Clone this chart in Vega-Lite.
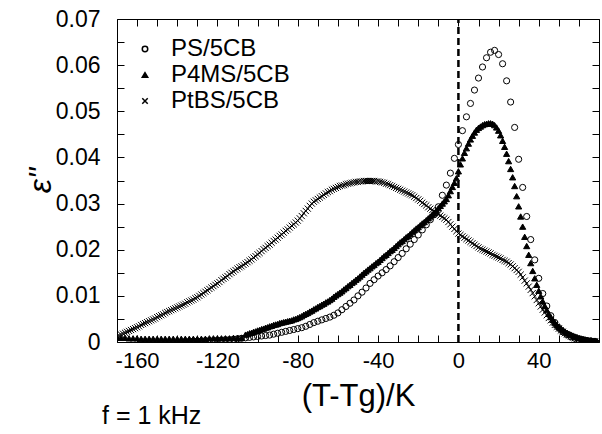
{
  "$schema": "https://vega.github.io/schema/vega-lite/v6.json",
  "autosize": "none",
  "width": 482,
  "height": 323,
  "padding": {"left": 117, "top": 19, "right": 3, "bottom": 92},
  "background": "white",
  "config": {
    "font": "Liberation Sans",
    "view": {"stroke": "black", "strokeWidth": 1},
    "axis": {"grid": false, "domain": false, "labelColor": "black", "titleColor": "black"}
  },
  "title": {"text": "f = 1 kHz", "orient": "bottom", "anchor": "start", "frame": "group", "fontSize": 25, "fontWeight": "normal", "font": "Liberation Sans", "color": "black", "dx": -15, "dy": -7, "offset": 0},
  "resolve": {"axis": {"x": "independent", "y": "independent"}},
  "layer": [
    {
      "data": {"values": [
{"s":"PS/5CB","x":-136,"y":0.0001},{"s":"PS/5CB","x":-134,"y":0.0001},{"s":"PS/5CB","x":-132,"y":0.0002},{"s":"PS/5CB","x":-130,"y":0.0002},{"s":"PS/5CB","x":-128,"y":0.0002},{"s":"PS/5CB","x":-126,"y":0.0003},{"s":"PS/5CB","x":-124,"y":0.0003},{"s":"PS/5CB","x":-122,"y":0.0003},{"s":"PS/5CB","x":-120,"y":0.0004},{"s":"PS/5CB","x":-118,"y":0.0004},{"s":"PS/5CB","x":-116,"y":0.0005},{"s":"PS/5CB","x":-114,"y":0.0005},{"s":"PS/5CB","x":-112,"y":0.0006},{"s":"PS/5CB","x":-110,"y":0.0007},{"s":"PS/5CB","x":-108,"y":0.0008},{"s":"PS/5CB","x":-106,"y":0.0009},{"s":"PS/5CB","x":-104,"y":0.0010},{"s":"PS/5CB","x":-102,"y":0.0011},{"s":"PS/5CB","x":-100,"y":0.0012},{"s":"PS/5CB","x":-98,"y":0.0013},{"s":"PS/5CB","x":-96,"y":0.0014},{"s":"PS/5CB","x":-94,"y":0.0015},{"s":"PS/5CB","x":-92,"y":0.0017},{"s":"PS/5CB","x":-90,"y":0.0019},{"s":"PS/5CB","x":-88,"y":0.0021},{"s":"PS/5CB","x":-86,"y":0.0023},{"s":"PS/5CB","x":-84,"y":0.0025},{"s":"PS/5CB","x":-82,"y":0.0027},{"s":"PS/5CB","x":-80,"y":0.0029},{"s":"PS/5CB","x":-78,"y":0.0031},{"s":"PS/5CB","x":-76,"y":0.0034},{"s":"PS/5CB","x":-74,"y":0.0038},{"s":"PS/5CB","x":-72,"y":0.0042},{"s":"PS/5CB","x":-70,"y":0.0045},{"s":"PS/5CB","x":-68,"y":0.0048},{"s":"PS/5CB","x":-66,"y":0.0051},{"s":"PS/5CB","x":-64,"y":0.0054},{"s":"PS/5CB","x":-62,"y":0.0058},{"s":"PS/5CB","x":-60,"y":0.0063},{"s":"PS/5CB","x":-58,"y":0.0070},{"s":"PS/5CB","x":-56,"y":0.0077},{"s":"PS/5CB","x":-54,"y":0.0084},{"s":"PS/5CB","x":-52,"y":0.0091},{"s":"PS/5CB","x":-50,"y":0.0100},{"s":"PS/5CB","x":-48,"y":0.0108},{"s":"PS/5CB","x":-46,"y":0.0117},{"s":"PS/5CB","x":-44,"y":0.0127},{"s":"PS/5CB","x":-42,"y":0.0135},{"s":"PS/5CB","x":-40,"y":0.0143},{"s":"PS/5CB","x":-38,"y":0.0150},{"s":"PS/5CB","x":-36,"y":0.0157},{"s":"PS/5CB","x":-34,"y":0.0165},{"s":"PS/5CB","x":-32,"y":0.0174},{"s":"PS/5CB","x":-30,"y":0.0183},{"s":"PS/5CB","x":-28,"y":0.0192},{"s":"PS/5CB","x":-26,"y":0.0202},{"s":"PS/5CB","x":-24,"y":0.0212},{"s":"PS/5CB","x":-22,"y":0.0222},{"s":"PS/5CB","x":-20,"y":0.0232},{"s":"PS/5CB","x":-18,"y":0.0243},{"s":"PS/5CB","x":-16,"y":0.0254},{"s":"PS/5CB","x":-14,"y":0.0265},{"s":"PS/5CB","x":-12,"y":0.0276},{"s":"PS/5CB","x":-10,"y":0.0293},{"s":"PS/5CB","x":-8,"y":0.0318},{"s":"PS/5CB","x":-6,"y":0.0340},{"s":"PS/5CB","x":-4,"y":0.0366},{"s":"PS/5CB","x":-2,"y":0.0398},{"s":"PS/5CB","x":0,"y":0.0428},{"s":"PS/5CB","x":2,"y":0.0458},{"s":"PS/5CB","x":4,"y":0.0488},{"s":"PS/5CB","x":6,"y":0.0517},{"s":"PS/5CB","x":8,"y":0.0546},{"s":"PS/5CB","x":10,"y":0.0572},{"s":"PS/5CB","x":12,"y":0.0596},{"s":"PS/5CB","x":14,"y":0.0616},{"s":"PS/5CB","x":16,"y":0.0628},{"s":"PS/5CB","x":18,"y":0.0632},{"s":"PS/5CB","x":20,"y":0.0623},{"s":"PS/5CB","x":22,"y":0.0603},{"s":"PS/5CB","x":24,"y":0.0566},{"s":"PS/5CB","x":26,"y":0.0520},{"s":"PS/5CB","x":28,"y":0.0465},{"s":"PS/5CB","x":30,"y":0.0396},{"s":"PS/5CB","x":32,"y":0.0335},{"s":"PS/5CB","x":34,"y":0.0272},{"s":"PS/5CB","x":36,"y":0.0222},{"s":"PS/5CB","x":38,"y":0.0178},{"s":"PS/5CB","x":40,"y":0.0138},{"s":"PS/5CB","x":42,"y":0.0105},{"s":"PS/5CB","x":44,"y":0.0078},{"s":"PS/5CB","x":46,"y":0.0057},{"s":"PS/5CB","x":48,"y":0.0042},{"s":"PS/5CB","x":50,"y":0.0031},{"s":"PS/5CB","x":52,"y":0.0022},{"s":"PS/5CB","x":54,"y":0.0016},{"s":"PS/5CB","x":56,"y":0.0011},{"s":"PS/5CB","x":58,"y":0.0008},{"s":"PS/5CB","x":60,"y":0.0005},{"s":"PS/5CB","x":62,"y":0.0004},{"s":"PS/5CB","x":64,"y":0.0003},{"s":"PS/5CB","x":66,"y":0.0002},{"s":"PS/5CB","x":68,"y":0.0001},
{"s":"P4MS/5CB","x":-170,"y":0.0010},{"s":"P4MS/5CB","x":-168,"y":0.0009},{"s":"P4MS/5CB","x":-166,"y":0.0009},{"s":"P4MS/5CB","x":-164,"y":0.0008},{"s":"P4MS/5CB","x":-162,"y":0.0008},{"s":"P4MS/5CB","x":-160,"y":0.0008},{"s":"P4MS/5CB","x":-158,"y":0.0007},{"s":"P4MS/5CB","x":-156,"y":0.0007},{"s":"P4MS/5CB","x":-154,"y":0.0007},{"s":"P4MS/5CB","x":-152,"y":0.0007},{"s":"P4MS/5CB","x":-150,"y":0.0007},{"s":"P4MS/5CB","x":-148,"y":0.0007},{"s":"P4MS/5CB","x":-146,"y":0.0007},{"s":"P4MS/5CB","x":-144,"y":0.0007},{"s":"P4MS/5CB","x":-142,"y":0.0007},{"s":"P4MS/5CB","x":-140,"y":0.0007},{"s":"P4MS/5CB","x":-138,"y":0.0007},{"s":"P4MS/5CB","x":-136,"y":0.0007},{"s":"P4MS/5CB","x":-134,"y":0.0007},{"s":"P4MS/5CB","x":-132,"y":0.0007},{"s":"P4MS/5CB","x":-130,"y":0.0007},{"s":"P4MS/5CB","x":-128,"y":0.0007},{"s":"P4MS/5CB","x":-126,"y":0.0007},{"s":"P4MS/5CB","x":-124,"y":0.0008},{"s":"P4MS/5CB","x":-122,"y":0.0008},{"s":"P4MS/5CB","x":-120,"y":0.0008},{"s":"P4MS/5CB","x":-118,"y":0.0008},{"s":"P4MS/5CB","x":-116,"y":0.0008},{"s":"P4MS/5CB","x":-114,"y":0.0008},{"s":"P4MS/5CB","x":-112,"y":0.0009},{"s":"P4MS/5CB","x":-110,"y":0.0009},{"s":"P4MS/5CB","x":-108,"y":0.0009},
{"s":"P4MS/5CB","x":-106,"y":0.0016},{"s":"P4MS/5CB","x":-105,"y":0.0017},{"s":"P4MS/5CB","x":-104,"y":0.0019},{"s":"P4MS/5CB","x":-103,"y":0.0020},{"s":"P4MS/5CB","x":-102,"y":0.0022},{"s":"P4MS/5CB","x":-101,"y":0.0023},{"s":"P4MS/5CB","x":-100,"y":0.0025},{"s":"P4MS/5CB","x":-99,"y":0.0026},{"s":"P4MS/5CB","x":-98,"y":0.0028},{"s":"P4MS/5CB","x":-97,"y":0.0029},{"s":"P4MS/5CB","x":-96,"y":0.0031},{"s":"P4MS/5CB","x":-95,"y":0.0032},{"s":"P4MS/5CB","x":-94,"y":0.0034},{"s":"P4MS/5CB","x":-93,"y":0.0035},{"s":"P4MS/5CB","x":-92,"y":0.0037},{"s":"P4MS/5CB","x":-91,"y":0.0038},{"s":"P4MS/5CB","x":-90,"y":0.0039},{"s":"P4MS/5CB","x":-89,"y":0.0041},{"s":"P4MS/5CB","x":-88,"y":0.0042},{"s":"P4MS/5CB","x":-87,"y":0.0043},{"s":"P4MS/5CB","x":-86,"y":0.0044},{"s":"P4MS/5CB","x":-85,"y":0.0045},{"s":"P4MS/5CB","x":-84,"y":0.0046},{"s":"P4MS/5CB","x":-83,"y":0.0047},{"s":"P4MS/5CB","x":-82,"y":0.0049},{"s":"P4MS/5CB","x":-81,"y":0.0050},{"s":"P4MS/5CB","x":-80,"y":0.0052},{"s":"P4MS/5CB","x":-79,"y":0.0054},{"s":"P4MS/5CB","x":-78,"y":0.0056},{"s":"P4MS/5CB","x":-77,"y":0.0059},{"s":"P4MS/5CB","x":-76,"y":0.0061},{"s":"P4MS/5CB","x":-75,"y":0.0063},{"s":"P4MS/5CB","x":-74,"y":0.0066},{"s":"P4MS/5CB","x":-73,"y":0.0068},{"s":"P4MS/5CB","x":-72,"y":0.0071},{"s":"P4MS/5CB","x":-71,"y":0.0073},{"s":"P4MS/5CB","x":-70,"y":0.0076},{"s":"P4MS/5CB","x":-69,"y":0.0078},{"s":"P4MS/5CB","x":-68,"y":0.0081},{"s":"P4MS/5CB","x":-67,"y":0.0083},{"s":"P4MS/5CB","x":-66,"y":0.0086},{"s":"P4MS/5CB","x":-65,"y":0.0088},{"s":"P4MS/5CB","x":-64,"y":0.0091},{"s":"P4MS/5CB","x":-63,"y":0.0094},{"s":"P4MS/5CB","x":-62,"y":0.0098},{"s":"P4MS/5CB","x":-61,"y":0.0101},{"s":"P4MS/5CB","x":-60,"y":0.0104},{"s":"P4MS/5CB","x":-59,"y":0.0107},{"s":"P4MS/5CB","x":-58,"y":0.0110},{"s":"P4MS/5CB","x":-57,"y":0.0114},{"s":"P4MS/5CB","x":-56,"y":0.0117},{"s":"P4MS/5CB","x":-55,"y":0.0121},{"s":"P4MS/5CB","x":-54,"y":0.0124},{"s":"P4MS/5CB","x":-53,"y":0.0128},{"s":"P4MS/5CB","x":-52,"y":0.0131},{"s":"P4MS/5CB","x":-51,"y":0.0135},{"s":"P4MS/5CB","x":-50,"y":0.0138},{"s":"P4MS/5CB","x":-49,"y":0.0142},{"s":"P4MS/5CB","x":-48,"y":0.0146},{"s":"P4MS/5CB","x":-47,"y":0.0150},{"s":"P4MS/5CB","x":-46,"y":0.0153},{"s":"P4MS/5CB","x":-45,"y":0.0157},{"s":"P4MS/5CB","x":-44,"y":0.0160},{"s":"P4MS/5CB","x":-43,"y":0.0164},{"s":"P4MS/5CB","x":-42,"y":0.0167},{"s":"P4MS/5CB","x":-41,"y":0.0171},{"s":"P4MS/5CB","x":-40,"y":0.0174},{"s":"P4MS/5CB","x":-39,"y":0.0178},{"s":"P4MS/5CB","x":-38,"y":0.0182},{"s":"P4MS/5CB","x":-37,"y":0.0186},{"s":"P4MS/5CB","x":-36,"y":0.0189},{"s":"P4MS/5CB","x":-35,"y":0.0193},{"s":"P4MS/5CB","x":-34,"y":0.0197},{"s":"P4MS/5CB","x":-33,"y":0.0200},{"s":"P4MS/5CB","x":-32,"y":0.0204},{"s":"P4MS/5CB","x":-31,"y":0.0208},{"s":"P4MS/5CB","x":-30,"y":0.0212},{"s":"P4MS/5CB","x":-29,"y":0.0216},{"s":"P4MS/5CB","x":-28,"y":0.0219},{"s":"P4MS/5CB","x":-27,"y":0.0223},{"s":"P4MS/5CB","x":-26,"y":0.0227},{"s":"P4MS/5CB","x":-25,"y":0.0230},{"s":"P4MS/5CB","x":-24,"y":0.0234},{"s":"P4MS/5CB","x":-23,"y":0.0238},{"s":"P4MS/5CB","x":-22,"y":0.0242},{"s":"P4MS/5CB","x":-21,"y":0.0246},{"s":"P4MS/5CB","x":-20,"y":0.0249},{"s":"P4MS/5CB","x":-19,"y":0.0253},{"s":"P4MS/5CB","x":-18,"y":0.0257},{"s":"P4MS/5CB","x":-17,"y":0.0260},{"s":"P4MS/5CB","x":-16,"y":0.0264},{"s":"P4MS/5CB","x":-15,"y":0.0268},{"s":"P4MS/5CB","x":-14,"y":0.0272},{"s":"P4MS/5CB","x":-13,"y":0.0276},{"s":"P4MS/5CB","x":-12,"y":0.0280},{"s":"P4MS/5CB","x":-11,"y":0.0285},{"s":"P4MS/5CB","x":-10,"y":0.0290},{"s":"P4MS/5CB","x":-9,"y":0.0295},{"s":"P4MS/5CB","x":-8,"y":0.0300},{"s":"P4MS/5CB","x":-7,"y":0.0305},{"s":"P4MS/5CB","x":-6,"y":0.0310},{"s":"P4MS/5CB","x":-5,"y":0.0318},{"s":"P4MS/5CB","x":-4,"y":0.0327},{"s":"P4MS/5CB","x":-3,"y":0.0336},{"s":"P4MS/5CB","x":-2,"y":0.0345},{"s":"P4MS/5CB","x":-1,"y":0.0355},{"s":"P4MS/5CB","x":0,"y":0.0370},{"s":"P4MS/5CB","x":1,"y":0.0385},{"s":"P4MS/5CB","x":2,"y":0.0398},{"s":"P4MS/5CB","x":3,"y":0.0410},{"s":"P4MS/5CB","x":4,"y":0.0420},{"s":"P4MS/5CB","x":5,"y":0.0430},{"s":"P4MS/5CB","x":6,"y":0.0439},{"s":"P4MS/5CB","x":7,"y":0.0447},{"s":"P4MS/5CB","x":8,"y":0.0454},{"s":"P4MS/5CB","x":9,"y":0.0460},{"s":"P4MS/5CB","x":10,"y":0.0464},{"s":"P4MS/5CB","x":11,"y":0.0467},{"s":"P4MS/5CB","x":12,"y":0.0470},{"s":"P4MS/5CB","x":13,"y":0.0472},{"s":"P4MS/5CB","x":14,"y":0.0473},{"s":"P4MS/5CB","x":15,"y":0.0474},{"s":"P4MS/5CB","x":16,"y":0.0474},{"s":"P4MS/5CB","x":17,"y":0.0473},{"s":"P4MS/5CB","x":18,"y":0.0470},{"s":"P4MS/5CB","x":19,"y":0.0465},{"s":"P4MS/5CB","x":20,"y":0.0458},{"s":"P4MS/5CB","x":21,"y":0.0448},{"s":"P4MS/5CB","x":22,"y":0.0436},{"s":"P4MS/5CB","x":23,"y":0.0423},{"s":"P4MS/5CB","x":24,"y":0.0408},{"s":"P4MS/5CB","x":25,"y":0.0392},{"s":"P4MS/5CB","x":26,"y":0.0375},{"s":"P4MS/5CB","x":27,"y":0.0357},{"s":"P4MS/5CB","x":28,"y":0.0338},{"s":"P4MS/5CB","x":29,"y":0.0316},{"s":"P4MS/5CB","x":30,"y":0.0294},{"s":"P4MS/5CB","x":31,"y":0.0272},{"s":"P4MS/5CB","x":32,"y":0.0250},{"s":"P4MS/5CB","x":33,"y":0.0228},{"s":"P4MS/5CB","x":34,"y":0.0208},{"s":"P4MS/5CB","x":35,"y":0.0189},{"s":"P4MS/5CB","x":36,"y":0.0171},{"s":"P4MS/5CB","x":37,"y":0.0154},{"s":"P4MS/5CB","x":38,"y":0.0138},{"s":"P4MS/5CB","x":39,"y":0.0124},{"s":"P4MS/5CB","x":40,"y":0.0111},{"s":"P4MS/5CB","x":41,"y":0.0099},{"s":"P4MS/5CB","x":42,"y":0.0088},{"s":"P4MS/5CB","x":43,"y":0.0078},{"s":"P4MS/5CB","x":44,"y":0.0069},{"s":"P4MS/5CB","x":45,"y":0.0061},{"s":"P4MS/5CB","x":46,"y":0.0054},{"s":"P4MS/5CB","x":47,"y":0.0048},{"s":"P4MS/5CB","x":48,"y":0.0042},{"s":"P4MS/5CB","x":49,"y":0.0037},{"s":"P4MS/5CB","x":50,"y":0.0033},{"s":"P4MS/5CB","x":51,"y":0.0029},{"s":"P4MS/5CB","x":52,"y":0.0026},{"s":"P4MS/5CB","x":53,"y":0.0023},{"s":"P4MS/5CB","x":54,"y":0.0020},{"s":"P4MS/5CB","x":55,"y":0.0018},{"s":"P4MS/5CB","x":56,"y":0.0016},{"s":"P4MS/5CB","x":57,"y":0.0014},{"s":"P4MS/5CB","x":58,"y":0.0012},{"s":"P4MS/5CB","x":59,"y":0.0011},{"s":"P4MS/5CB","x":60,"y":0.0009},{"s":"P4MS/5CB","x":61,"y":0.0008},{"s":"P4MS/5CB","x":62,"y":0.0007},{"s":"P4MS/5CB","x":63,"y":0.0006},{"s":"P4MS/5CB","x":64,"y":0.0005},{"s":"P4MS/5CB","x":65,"y":0.0004},{"s":"P4MS/5CB","x":66,"y":0.0004},{"s":"P4MS/5CB","x":67,"y":0.0003},{"s":"P4MS/5CB","x":68,"y":0.0003},{"s":"P4MS/5CB","x":69,"y":0.0002},
{"s":"PtBS/5CB","x":-170,"y":0.0012},{"s":"PtBS/5CB","x":-169,"y":0.0014},{"s":"PtBS/5CB","x":-168,"y":0.0016},{"s":"PtBS/5CB","x":-167,"y":0.0018},{"s":"PtBS/5CB","x":-166,"y":0.0020},{"s":"PtBS/5CB","x":-165,"y":0.0022},{"s":"PtBS/5CB","x":-164,"y":0.0024},{"s":"PtBS/5CB","x":-163,"y":0.0026},{"s":"PtBS/5CB","x":-162,"y":0.0028},{"s":"PtBS/5CB","x":-161,"y":0.0030},{"s":"PtBS/5CB","x":-160,"y":0.0032},{"s":"PtBS/5CB","x":-159,"y":0.0034},{"s":"PtBS/5CB","x":-158,"y":0.0037},{"s":"PtBS/5CB","x":-157,"y":0.0039},{"s":"PtBS/5CB","x":-156,"y":0.0041},{"s":"PtBS/5CB","x":-155,"y":0.0043},{"s":"PtBS/5CB","x":-154,"y":0.0045},{"s":"PtBS/5CB","x":-153,"y":0.0047},{"s":"PtBS/5CB","x":-152,"y":0.0049},{"s":"PtBS/5CB","x":-151,"y":0.0051},{"s":"PtBS/5CB","x":-150,"y":0.0054},{"s":"PtBS/5CB","x":-149,"y":0.0056},{"s":"PtBS/5CB","x":-148,"y":0.0058},{"s":"PtBS/5CB","x":-147,"y":0.0060},{"s":"PtBS/5CB","x":-146,"y":0.0063},{"s":"PtBS/5CB","x":-145,"y":0.0065},{"s":"PtBS/5CB","x":-144,"y":0.0067},{"s":"PtBS/5CB","x":-143,"y":0.0069},{"s":"PtBS/5CB","x":-142,"y":0.0071},{"s":"PtBS/5CB","x":-141,"y":0.0073},{"s":"PtBS/5CB","x":-140,"y":0.0075},{"s":"PtBS/5CB","x":-139,"y":0.0077},{"s":"PtBS/5CB","x":-138,"y":0.0079},{"s":"PtBS/5CB","x":-137,"y":0.0081},{"s":"PtBS/5CB","x":-136,"y":0.0083},{"s":"PtBS/5CB","x":-135,"y":0.0086},{"s":"PtBS/5CB","x":-134,"y":0.0088},{"s":"PtBS/5CB","x":-133,"y":0.0090},{"s":"PtBS/5CB","x":-132,"y":0.0092},{"s":"PtBS/5CB","x":-131,"y":0.0095},{"s":"PtBS/5CB","x":-130,"y":0.0097},{"s":"PtBS/5CB","x":-129,"y":0.0100},{"s":"PtBS/5CB","x":-128,"y":0.0103},{"s":"PtBS/5CB","x":-127,"y":0.0106},{"s":"PtBS/5CB","x":-126,"y":0.0109},{"s":"PtBS/5CB","x":-125,"y":0.0112},{"s":"PtBS/5CB","x":-124,"y":0.0115},{"s":"PtBS/5CB","x":-123,"y":0.0118},{"s":"PtBS/5CB","x":-122,"y":0.0121},{"s":"PtBS/5CB","x":-121,"y":0.0124},{"s":"PtBS/5CB","x":-120,"y":0.0127},{"s":"PtBS/5CB","x":-119,"y":0.0130},{"s":"PtBS/5CB","x":-118,"y":0.0134},{"s":"PtBS/5CB","x":-117,"y":0.0137},{"s":"PtBS/5CB","x":-116,"y":0.0140},{"s":"PtBS/5CB","x":-115,"y":0.0143},{"s":"PtBS/5CB","x":-114,"y":0.0147},{"s":"PtBS/5CB","x":-113,"y":0.0150},{"s":"PtBS/5CB","x":-112,"y":0.0153},{"s":"PtBS/5CB","x":-111,"y":0.0156},{"s":"PtBS/5CB","x":-110,"y":0.0159},{"s":"PtBS/5CB","x":-109,"y":0.0162},{"s":"PtBS/5CB","x":-108,"y":0.0164},{"s":"PtBS/5CB","x":-107,"y":0.0167},{"s":"PtBS/5CB","x":-106,"y":0.0170},{"s":"PtBS/5CB","x":-105,"y":0.0173},{"s":"PtBS/5CB","x":-104,"y":0.0176},{"s":"PtBS/5CB","x":-103,"y":0.0179},{"s":"PtBS/5CB","x":-102,"y":0.0183},{"s":"PtBS/5CB","x":-101,"y":0.0186},{"s":"PtBS/5CB","x":-100,"y":0.0190},{"s":"PtBS/5CB","x":-99,"y":0.0193},{"s":"PtBS/5CB","x":-98,"y":0.0197},{"s":"PtBS/5CB","x":-97,"y":0.0201},{"s":"PtBS/5CB","x":-96,"y":0.0204},{"s":"PtBS/5CB","x":-95,"y":0.0208},{"s":"PtBS/5CB","x":-94,"y":0.0211},{"s":"PtBS/5CB","x":-93,"y":0.0215},{"s":"PtBS/5CB","x":-92,"y":0.0219},{"s":"PtBS/5CB","x":-91,"y":0.0222},{"s":"PtBS/5CB","x":-90,"y":0.0226},{"s":"PtBS/5CB","x":-89,"y":0.0230},{"s":"PtBS/5CB","x":-88,"y":0.0233},{"s":"PtBS/5CB","x":-87,"y":0.0237},{"s":"PtBS/5CB","x":-86,"y":0.0241},{"s":"PtBS/5CB","x":-85,"y":0.0244},{"s":"PtBS/5CB","x":-84,"y":0.0248},{"s":"PtBS/5CB","x":-83,"y":0.0252},{"s":"PtBS/5CB","x":-82,"y":0.0255},{"s":"PtBS/5CB","x":-81,"y":0.0259},{"s":"PtBS/5CB","x":-80,"y":0.0263},{"s":"PtBS/5CB","x":-79,"y":0.0268},{"s":"PtBS/5CB","x":-78,"y":0.0273},{"s":"PtBS/5CB","x":-77,"y":0.0279},{"s":"PtBS/5CB","x":-76,"y":0.0284},{"s":"PtBS/5CB","x":-75,"y":0.0289},{"s":"PtBS/5CB","x":-74,"y":0.0295},{"s":"PtBS/5CB","x":-73,"y":0.0300},{"s":"PtBS/5CB","x":-72,"y":0.0304},{"s":"PtBS/5CB","x":-71,"y":0.0307},{"s":"PtBS/5CB","x":-70,"y":0.0310},{"s":"PtBS/5CB","x":-69,"y":0.0313},{"s":"PtBS/5CB","x":-68,"y":0.0316},{"s":"PtBS/5CB","x":-67,"y":0.0319},{"s":"PtBS/5CB","x":-66,"y":0.0322},{"s":"PtBS/5CB","x":-65,"y":0.0325},{"s":"PtBS/5CB","x":-64,"y":0.0327},{"s":"PtBS/5CB","x":-63,"y":0.0330},{"s":"PtBS/5CB","x":-62,"y":0.0332},{"s":"PtBS/5CB","x":-61,"y":0.0334},{"s":"PtBS/5CB","x":-60,"y":0.0336},{"s":"PtBS/5CB","x":-59,"y":0.0338},{"s":"PtBS/5CB","x":-58,"y":0.0339},{"s":"PtBS/5CB","x":-57,"y":0.0340},{"s":"PtBS/5CB","x":-56,"y":0.0342},{"s":"PtBS/5CB","x":-55,"y":0.0343},{"s":"PtBS/5CB","x":-54,"y":0.0344},{"s":"PtBS/5CB","x":-53,"y":0.0345},{"s":"PtBS/5CB","x":-52,"y":0.0346},{"s":"PtBS/5CB","x":-51,"y":0.0347},{"s":"PtBS/5CB","x":-50,"y":0.0347},{"s":"PtBS/5CB","x":-49,"y":0.0348},{"s":"PtBS/5CB","x":-48,"y":0.0348},{"s":"PtBS/5CB","x":-47,"y":0.0349},{"s":"PtBS/5CB","x":-46,"y":0.0349},{"s":"PtBS/5CB","x":-45,"y":0.0349},{"s":"PtBS/5CB","x":-44,"y":0.0349},{"s":"PtBS/5CB","x":-43,"y":0.0349},{"s":"PtBS/5CB","x":-42,"y":0.0349},{"s":"PtBS/5CB","x":-41,"y":0.0348},{"s":"PtBS/5CB","x":-40,"y":0.0348},{"s":"PtBS/5CB","x":-39,"y":0.0347},{"s":"PtBS/5CB","x":-38,"y":0.0346},{"s":"PtBS/5CB","x":-37,"y":0.0345},{"s":"PtBS/5CB","x":-36,"y":0.0343},{"s":"PtBS/5CB","x":-35,"y":0.0342},{"s":"PtBS/5CB","x":-34,"y":0.0340},{"s":"PtBS/5CB","x":-33,"y":0.0338},{"s":"PtBS/5CB","x":-32,"y":0.0336},{"s":"PtBS/5CB","x":-31,"y":0.0334},{"s":"PtBS/5CB","x":-30,"y":0.0332},{"s":"PtBS/5CB","x":-29,"y":0.0330},{"s":"PtBS/5CB","x":-28,"y":0.0328},{"s":"PtBS/5CB","x":-27,"y":0.0326},{"s":"PtBS/5CB","x":-26,"y":0.0324},{"s":"PtBS/5CB","x":-25,"y":0.0322},{"s":"PtBS/5CB","x":-24,"y":0.0320},{"s":"PtBS/5CB","x":-23,"y":0.0318},{"s":"PtBS/5CB","x":-22,"y":0.0315},{"s":"PtBS/5CB","x":-21,"y":0.0312},{"s":"PtBS/5CB","x":-20,"y":0.0309},{"s":"PtBS/5CB","x":-19,"y":0.0306},{"s":"PtBS/5CB","x":-18,"y":0.0302},{"s":"PtBS/5CB","x":-17,"y":0.0299},{"s":"PtBS/5CB","x":-16,"y":0.0296},{"s":"PtBS/5CB","x":-15,"y":0.0292},{"s":"PtBS/5CB","x":-14,"y":0.0289},{"s":"PtBS/5CB","x":-13,"y":0.0286},{"s":"PtBS/5CB","x":-12,"y":0.0283},{"s":"PtBS/5CB","x":-11,"y":0.0280},{"s":"PtBS/5CB","x":-10,"y":0.0277},{"s":"PtBS/5CB","x":-9,"y":0.0274},{"s":"PtBS/5CB","x":-8,"y":0.0271},{"s":"PtBS/5CB","x":-7,"y":0.0268},{"s":"PtBS/5CB","x":-6,"y":0.0265},{"s":"PtBS/5CB","x":-5,"y":0.0260},{"s":"PtBS/5CB","x":-4,"y":0.0255},{"s":"PtBS/5CB","x":-3,"y":0.0250},{"s":"PtBS/5CB","x":-2,"y":0.0245},{"s":"PtBS/5CB","x":-1,"y":0.0240},{"s":"PtBS/5CB","x":0,"y":0.0235},{"s":"PtBS/5CB","x":1,"y":0.0232},{"s":"PtBS/5CB","x":2,"y":0.0229},{"s":"PtBS/5CB","x":3,"y":0.0226},{"s":"PtBS/5CB","x":4,"y":0.0223},{"s":"PtBS/5CB","x":5,"y":0.0220},{"s":"PtBS/5CB","x":6,"y":0.0217},{"s":"PtBS/5CB","x":7,"y":0.0214},{"s":"PtBS/5CB","x":8,"y":0.0211},{"s":"PtBS/5CB","x":9,"y":0.0208},{"s":"PtBS/5CB","x":10,"y":0.0205},{"s":"PtBS/5CB","x":11,"y":0.0202},{"s":"PtBS/5CB","x":12,"y":0.0200},{"s":"PtBS/5CB","x":13,"y":0.0198},{"s":"PtBS/5CB","x":14,"y":0.0196},{"s":"PtBS/5CB","x":15,"y":0.0194},{"s":"PtBS/5CB","x":16,"y":0.0192},{"s":"PtBS/5CB","x":17,"y":0.0189},{"s":"PtBS/5CB","x":18,"y":0.0187},{"s":"PtBS/5CB","x":19,"y":0.0185},{"s":"PtBS/5CB","x":20,"y":0.0183},{"s":"PtBS/5CB","x":21,"y":0.0181},{"s":"PtBS/5CB","x":22,"y":0.0178},{"s":"PtBS/5CB","x":23,"y":0.0176},{"s":"PtBS/5CB","x":24,"y":0.0174},{"s":"PtBS/5CB","x":25,"y":0.0171},{"s":"PtBS/5CB","x":26,"y":0.0168},{"s":"PtBS/5CB","x":27,"y":0.0164},{"s":"PtBS/5CB","x":28,"y":0.0160},{"s":"PtBS/5CB","x":29,"y":0.0156},{"s":"PtBS/5CB","x":30,"y":0.0152},{"s":"PtBS/5CB","x":31,"y":0.0146},{"s":"PtBS/5CB","x":32,"y":0.0140},{"s":"PtBS/5CB","x":33,"y":0.0133},{"s":"PtBS/5CB","x":34,"y":0.0127},{"s":"PtBS/5CB","x":35,"y":0.0120},{"s":"PtBS/5CB","x":36,"y":0.0113},{"s":"PtBS/5CB","x":37,"y":0.0106},{"s":"PtBS/5CB","x":38,"y":0.0099},{"s":"PtBS/5CB","x":39,"y":0.0091},{"s":"PtBS/5CB","x":40,"y":0.0084},{"s":"PtBS/5CB","x":41,"y":0.0077},{"s":"PtBS/5CB","x":42,"y":0.0070},{"s":"PtBS/5CB","x":43,"y":0.0064},{"s":"PtBS/5CB","x":44,"y":0.0058},{"s":"PtBS/5CB","x":45,"y":0.0052},{"s":"PtBS/5CB","x":46,"y":0.0047},{"s":"PtBS/5CB","x":47,"y":0.0042},{"s":"PtBS/5CB","x":48,"y":0.0037},{"s":"PtBS/5CB","x":49,"y":0.0033},{"s":"PtBS/5CB","x":50,"y":0.0029},{"s":"PtBS/5CB","x":51,"y":0.0025},{"s":"PtBS/5CB","x":52,"y":0.0022},{"s":"PtBS/5CB","x":53,"y":0.0019},{"s":"PtBS/5CB","x":54,"y":0.0016},{"s":"PtBS/5CB","x":55,"y":0.0014},{"s":"PtBS/5CB","x":56,"y":0.0012},{"s":"PtBS/5CB","x":57,"y":0.0010},{"s":"PtBS/5CB","x":58,"y":0.0008},{"s":"PtBS/5CB","x":59,"y":0.0007},{"s":"PtBS/5CB","x":60,"y":0.0006},{"s":"PtBS/5CB","x":61,"y":0.0005},{"s":"PtBS/5CB","x":62,"y":0.0004},{"s":"PtBS/5CB","x":63,"y":0.0003},{"s":"PtBS/5CB","x":64,"y":0.0002},{"s":"PtBS/5CB","x":65,"y":0.0002},{"s":"PtBS/5CB","x":66,"y":0.0001},{"s":"PtBS/5CB","x":67,"y":0.0001},{"s":"PtBS/5CB","x":68,"y":0.0001},{"s":"PtBS/5CB","x":69,"y":0.0000}
      ]},
      "mark": {"type": "point", "stroke": "black", "strokeWidth": 1, "opacity": 1, "size": 38, "clip": true},
      "encoding": {
        "x": {"field": "x", "type": "quantitative", "scale": {"domain": [-170, 70], "nice": false, "zero": false},
          "axis": {"orient": "bottom", "offset": -7, "ticks": true, "tickSize": 7, "tickColor": "black", "tickWidth": 1, "zindex": 1, "domain": false,
            "values": [-170,-160,-150,-140,-130,-120,-110,-100,-90,-80,-70,-60,-50,-40,-30,-20,-10,0,10,20,30,40,50,60,70],
            "labelExpr": "datum.value % 40 === 0 ? '' + datum.value : ''", "labelFontSize": 22, "labelPadding": 8, "labelFlush": false,
            "title": "(T-Tg)/K", "titleFontSize": 31, "titleFontWeight": "normal", "titleY": 61, "titleBaseline": "middle"}},
        "y": {"field": "y", "type": "quantitative", "scale": {"domain": [0, 0.07], "nice": false, "zero": false},
          "axis": {"orient": "left", "offset": -7, "ticks": true, "tickSize": 7, "tickColor": "black", "tickWidth": 1, "zindex": 1, "domain": false,
            "values": [0,0.005,0.01,0.015,0.02,0.025,0.03,0.035,0.04,0.045,0.05,0.055,0.06,0.065,0.07],
            "labelExpr": "round(datum.value*1000) % 10 === 0 ? (datum.value === 0 ? '0' : format(datum.value, '.2f')) : ''", "labelFontSize": 23, "labelPadding": 17, "labelFlush": false,
            "title": "ε\"", "titleFontSize": 32, "titleFontWeight": "normal", "titleFontStyle": "italic", "titleX": -84, "titleY": 161, "titleAngle": -90, "titleBaseline": "middle", "titleAlign": "center"}},
        "shape": {"field": "s", "type": "nominal", "scale": {"domain": ["PS/5CB", "P4MS/5CB", "PtBS/5CB"], "range": ["circle", "triangle-up", "M-1,-1L1,1M-1,1L1,-1"]},
          "legend": {"title": null, "orient": "none", "legendX": 16, "legendY": 18, "labelFontSize": 24, "labelColor": "black", "labelOffset": 14, "rowPadding": 2, "symbolSize": 30,
            "encode": {"symbols": {"update": {"stroke": {"value": "black"}, "strokeWidth": {"value": 1}, "fill": {"signal": "datum.value === 'P4MS/5CB' ? 'black' : 'transparent'"}}}}}},
        "fill": {"field": "s", "type": "nominal", "scale": {"domain": ["PS/5CB", "P4MS/5CB", "PtBS/5CB"], "range": ["transparent", "black", "transparent"]}, "legend": null}
      }
    },
    {
      "data": {"values": [{"v": 0}]},
      "mark": {"type": "rule", "color": "black", "strokeWidth": 2.5, "strokeDash": [7, 4]},
      "encoding": {
        "x": {"datum": 0, "type": "quantitative",
          "axis": {"orient": "top", "offset": -7, "ticks": true, "tickSize": 7, "tickColor": "black", "tickWidth": 1, "zindex": 1, "domain": false,
            "values": [-170,-160,-150,-140,-130,-120,-110,-100,-90,-80,-70,-60,-50,-40,-30,-20,-10,0,10,20,30,40,50,60,70], "labels": false, "title": null}},
        "y": {"datum": 0, "type": "quantitative",
          "axis": {"orient": "right", "offset": -7, "ticks": true, "tickSize": 7, "tickColor": "black", "tickWidth": 1, "zindex": 1, "domain": false,
            "values": [0,0.005,0.01,0.015,0.02,0.025,0.03,0.035,0.04,0.045,0.05,0.055,0.06,0.065,0.07], "labels": false, "title": null}},
        "y2": {"datum": 0.07}
      }
    }
  ]
}
